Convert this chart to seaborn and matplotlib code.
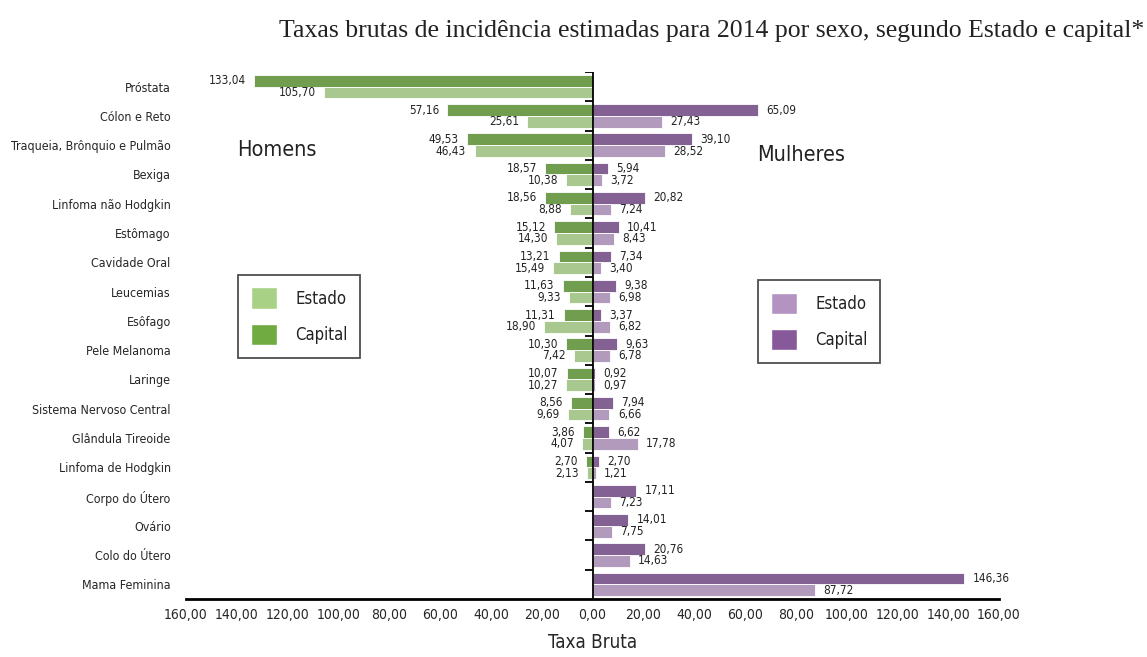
import numpy as np
import pandas as pd
import matplotlib
matplotlib.use('Agg')
import matplotlib.pyplot as plt
from matplotlib import font_manager
from matplotlib.patches import Patch
import seaborn as sns

# --- data ---
categorias = ['Próstata', 'Cólon e Reto', 'Traqueia, Brônquio e Pulmão', 'Bexiga',
              'Linfoma não Hodgkin', 'Estômago', 'Cavidade Oral', 'Leucemias', 'Esôfago',
              'Pele Melanoma', 'Laringe', 'Sistema Nervoso Central', 'Glândula Tireoide',
              'Linfoma de Hodgkin', 'Corpo do Útero', 'Ovário', 'Colo do Útero', 'Mama Feminina']
homens_capital = [133.04, 57.16, 49.53, 18.57, 18.56, 15.12, 13.21, 11.63, 11.31, 10.30,
                  10.07, 8.56, 3.86, 2.70, np.nan, np.nan, np.nan, np.nan]
homens_estado = [105.70, 25.61, 46.43, 10.38, 8.88, 14.30, 15.49, 9.33, 18.90, 7.42,
                 10.27, 9.69, 4.07, 2.13, np.nan, np.nan, np.nan, np.nan]
mulheres_capital = [np.nan, 65.09, 39.10, 5.94, 20.82, 10.41, 7.34, 9.38, 3.37, 9.63,
                    0.92, 7.94, 6.62, 2.70, 17.11, 14.01, 20.76, 146.36]
mulheres_estado = [np.nan, 27.43, 28.52, 3.72, 7.24, 8.43, 3.40, 6.98, 6.82, 6.78,
                   0.97, 6.66, 17.78, 1.21, 7.23, 7.75, 14.63, 87.72]
ticks = np.arange(-160, 161, 20)

verde = {'Capital': '#6fab41', 'Estado': '#a8d185'}
roxo = {'Capital': '#87599b', 'Estado': '#b394c0'}

def long_df(capital, estado, sign):
    rows = []
    for cat, c, e in zip(categorias, capital, estado):
        rows.append({'categoria': cat, 'grupo': 'Capital', 'valor': sign * c})
        rows.append({'categoria': cat, 'grupo': 'Estado', 'valor': sign * e})
    return pd.DataFrame(rows)

df_h = long_df(homens_capital, homens_estado, -1)
df_m = long_df(mulheres_capital, mulheres_estado, 1)

sns.set_style('white')
# condensed sans, like the original Helvetica Condensed
names = {f.name for f in font_manager.fontManager.ttflist}
if 'Liberation Sans Narrow' in names:
    plt.rcParams['font.family'] = ['Liberation Sans Narrow', 'DejaVu Sans']
else:
    plt.rcParams['font.family'] = ['DejaVu Sans']
    plt.rcParams['font.stretch'] = 'condensed'
plt.rcParams['text.color'] = '#222222'

fig = plt.figure(figsize=(11.47, 6.57), dpi=100)
ax = fig.add_axes([186 / 1147, 1 - 599 / 657, 813 / 1147, (599 - 72) / 657])

for df, pal in [(df_h, verde), (df_m, roxo)]:
    sns.barplot(data=df, y='categoria', x='valor', hue='grupo', order=categorias,
                hue_order=['Capital', 'Estado'], palette=pal, orient='h', width=0.8,
                edgecolor='white', linewidth=0.6, errorbar=None, legend=False, ax=ax)

# value labels
for cont in ax.containers:
    labels = []
    for p in cont:
        w = p.get_width()
        labels.append('' if np.isnan(w) else f'{abs(w):.2f}'.replace('.', ','))
    ax.bar_label(cont, labels=labels, padding=6, fontsize=8.5, color='#222222')

ax.set_ylim(len(categorias) - 0.5, -0.5)
ax.set_xlim(-160, 160)
ax.set_xticks(ticks)
ax.set_xticklabels([f'{abs(t):.2f}'.replace('.', ',') for t in ticks], fontsize=10)
ax.tick_params(axis='x', direction='out', length=5, width=1.2, color='black', pad=1.5)
ax.tick_params(axis='y', length=0, pad=11, labelsize=8.9)
ax.set_ylabel('')
ax.set_xlabel('Taxa Bruta', fontsize=13.5, labelpad=8)

for s in ['top', 'right', 'left']:
    ax.spines[s].set_visible(False)
ax.spines['bottom'].set_color('black')
ax.spines['bottom'].set_linewidth(2)
ax.axvline(0, color='black', lw=1.3, zorder=5)
# group separators on the zero line
bounds = np.arange(len(categorias)) - 0.5
ax.hlines(bounds, -3, 0, color='black', lw=1.3, zorder=5)

ax.text(0.063, 0.852, 'Homens', transform=ax.transAxes, fontsize=15.5,
        va='center', color='#222222')
ax.text(0.702, 0.843, 'Mulheres', transform=ax.transAxes, fontsize=15.5,
        va='center', color='#222222')

def legenda(pal, loc):
    handles = [Patch(facecolor=pal['Estado'], label='Estado'),
               Patch(facecolor=pal['Capital'], label='Capital')]
    leg = ax.legend(handles=handles, loc='upper left', bbox_to_anchor=loc,
                    fontsize=12, frameon=True, fancybox=False, edgecolor='#222222',
                    handlelength=1.6, handleheight=1.6, labelspacing=0.9,
                    borderpad=0.75, handletextpad=1.1, borderaxespad=0)
    leg.get_frame().set_linewidth(1.3)
    return leg

leg1 = legenda(verde, (0.064, 0.615))
ax.add_artist(leg1)
legenda(roxo, (0.7036, 0.605))

fig.text(0.998, 0.944, 'Taxas brutas de incidência estimadas para 2014 por sexo, segundo Estado e capital*',
         ha='right', fontsize=18.5, family='Liberation Serif', color='#222222')

fig.savefig('out.png', dpi=100)
